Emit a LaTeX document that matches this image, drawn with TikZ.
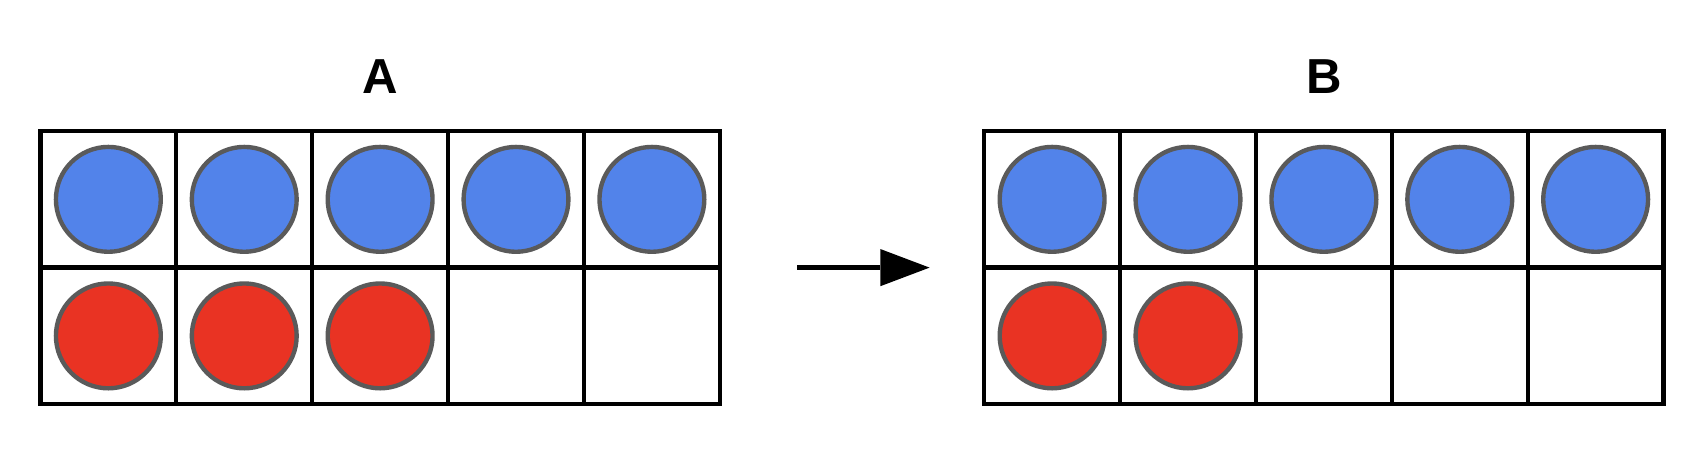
\documentclass[tikz,border=0pt]{standalone}
\usepackage{fontspec}
\setmainfont{Liberation Sans}
\definecolor{cblue}{RGB}{82,131,234}
\definecolor{cred}{RGB}{233,51,35}
\definecolor{cgray}{RGB}{90,90,90}
\begin{document}
\begin{tikzpicture}[x=1pt,y=-1pt,
  cell/.style={draw=black,line width=4pt,minimum width=124.4pt,minimum height=125pt,inner sep=0pt},
  chip/.style={circle,draw=cgray,line width=4pt,minimum size=96pt,inner sep=0pt},
  lab/.style={font=\fontsize{45}{45}\selectfont\bfseries}]
\useasboundingbox (0,0) rectangle (1560,417.6);
\foreach \g/\ox/\nr in {A/37/3,B/901/2}{
  \foreach \c in {0,...,4}{
    \foreach \r in {0,1}{
      \node[cell] (\g\r\c) at ({\ox+62.2+124.4*\c},{182.5+125*\r}) {};
    }
    \node[chip,fill=cblue] (\g b\c) at (\g0\c) {};
  }
  \foreach \c in {1,...,\nr}{
    \pgfmathtruncatemacro{\cc}{\c-1}
    \node[chip,fill=cred] (\g r\cc) at (\g1\cc) {};
  }
}
\node[lab] (la) at (348,70) {A};
\node[lab] (lb) at (1212,70) {B};
\coordinate (s) at (730,245);
\coordinate (e) at (851,245);
\draw[line width=5pt] (s) -- (806,245);
\fill (806,228) -- (e) -- (806,262) -- cycle;
\end{tikzpicture}
\end{document}
